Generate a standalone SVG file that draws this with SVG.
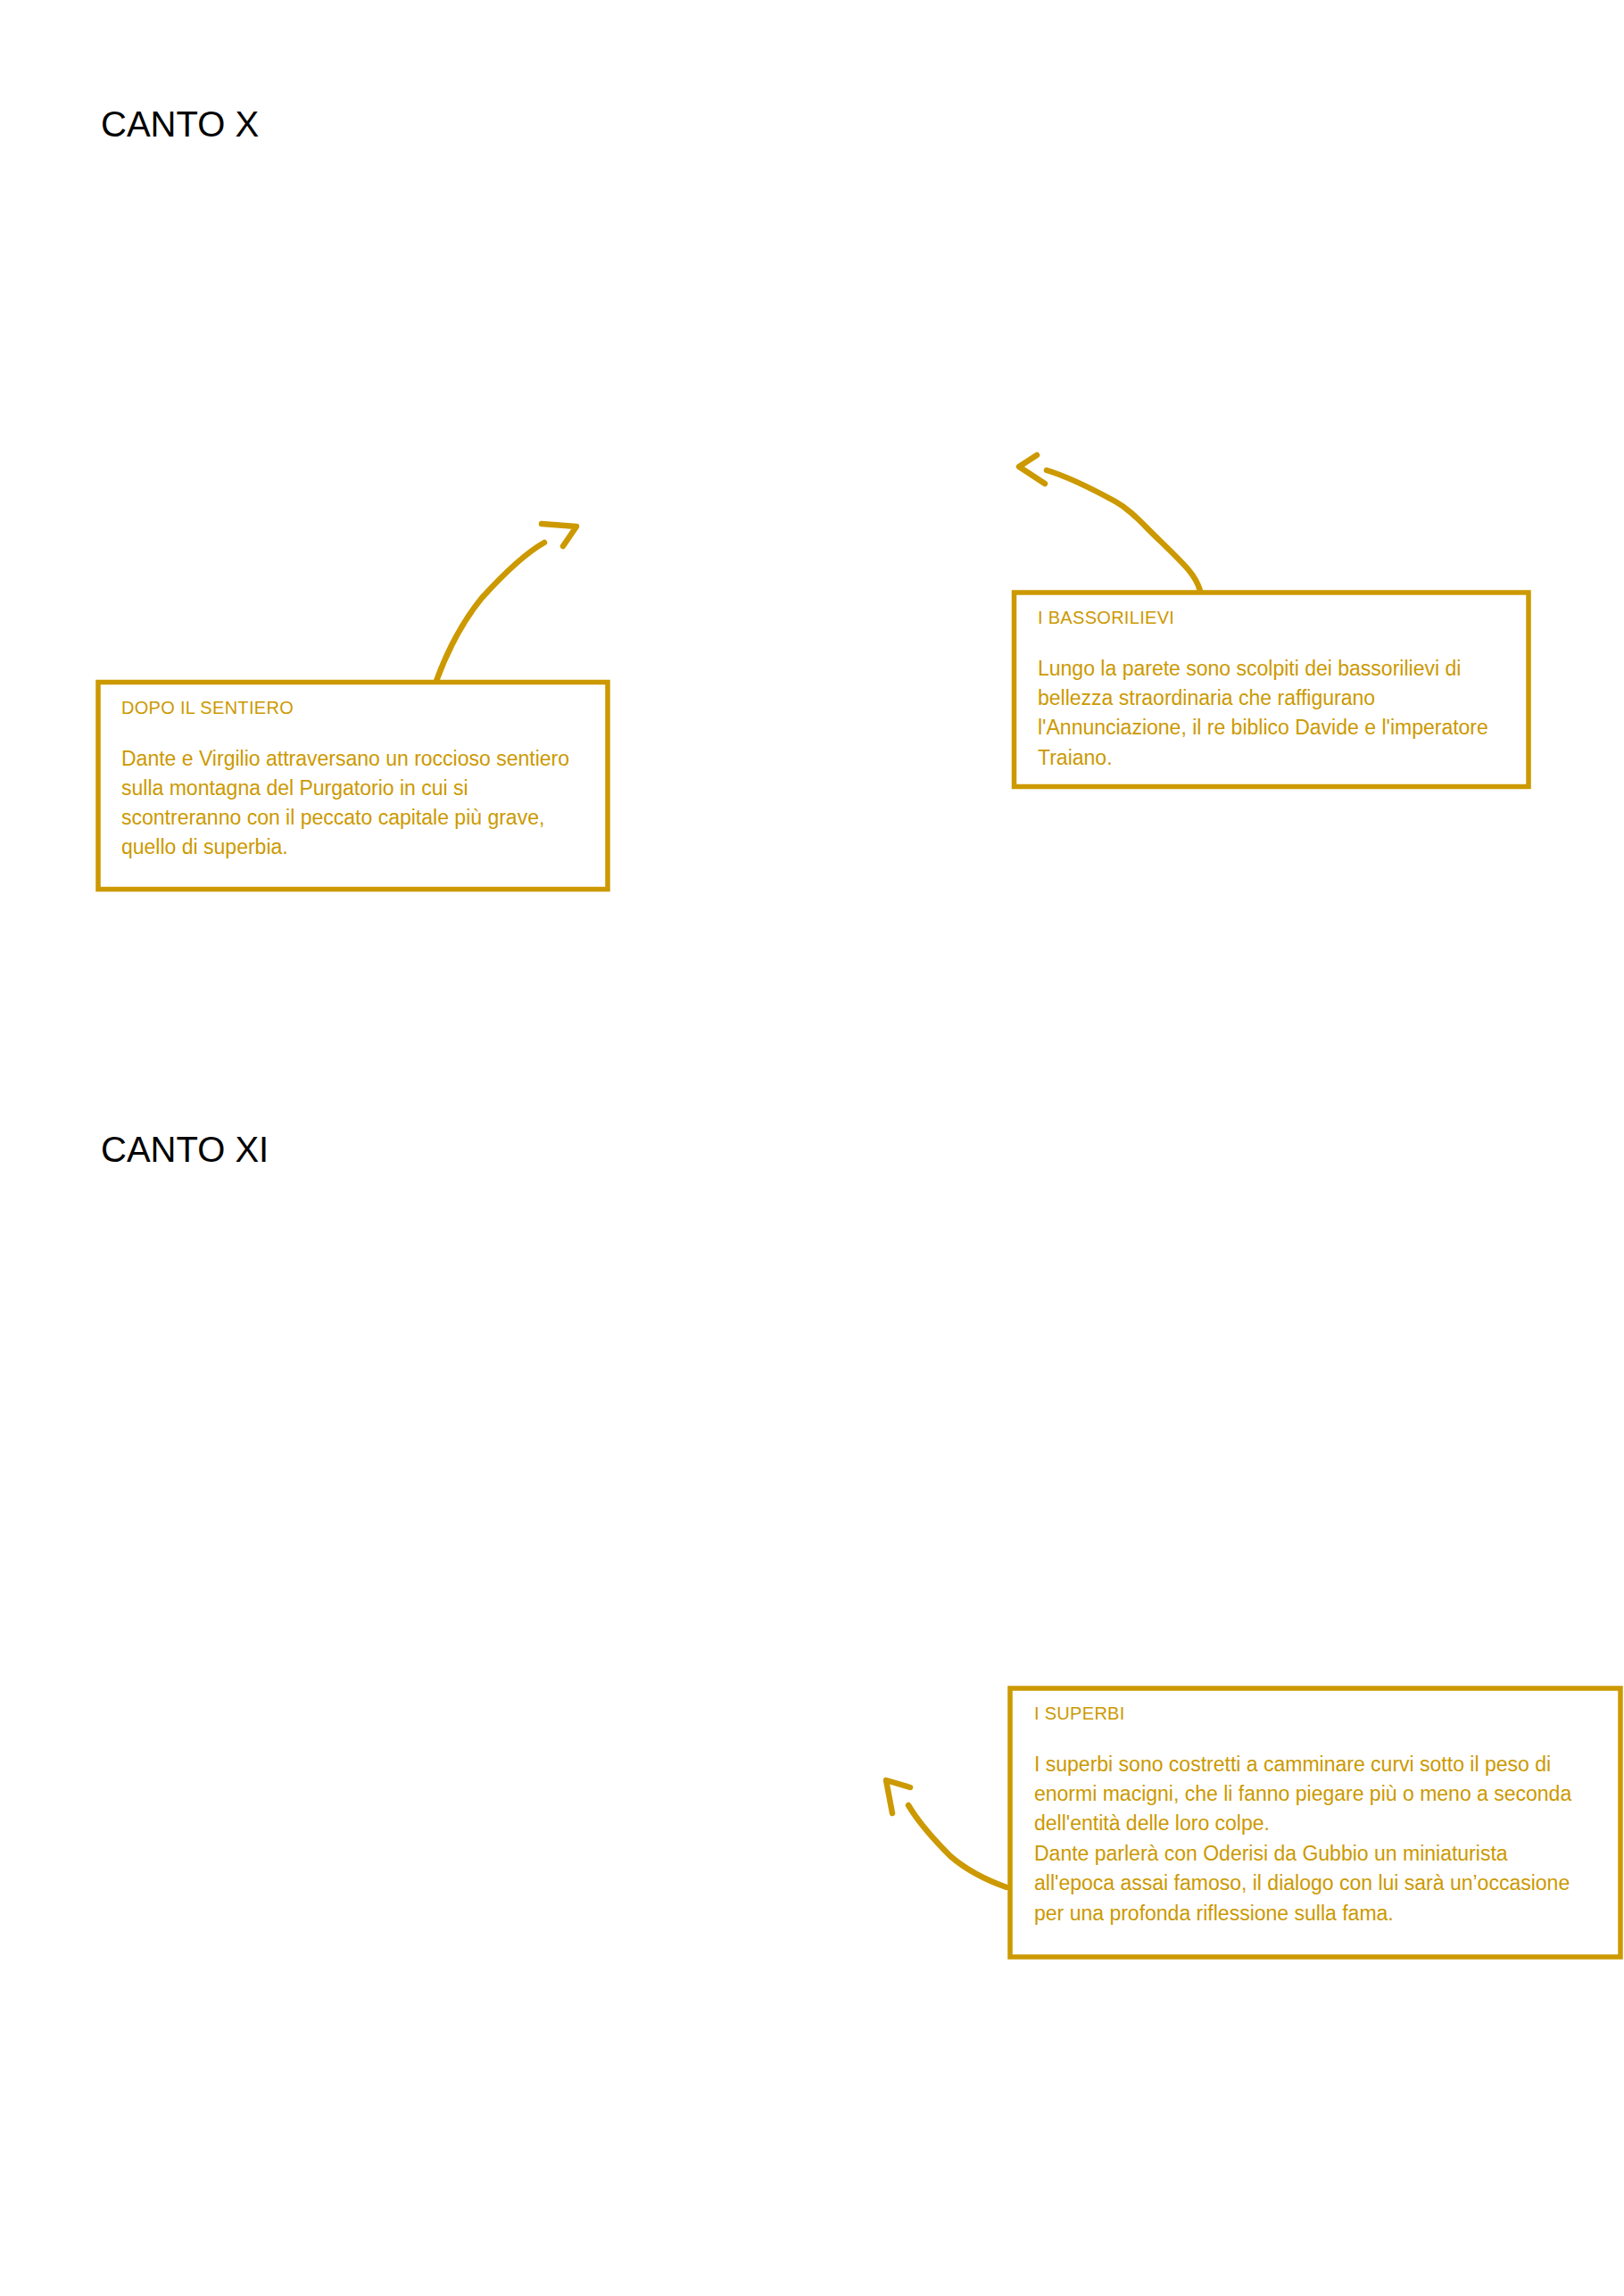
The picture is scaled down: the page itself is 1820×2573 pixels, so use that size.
<svg xmlns="http://www.w3.org/2000/svg" width="1820" height="2573" viewBox="0 0 1820 2573">
<style>
.bg{fill:#ffffff}
.canto{font-family:"Liberation Sans",Arial,sans-serif;font-size:40px;fill:#000000}
.box{fill:#ffffff;stroke:#CC9900;stroke-width:5.5}
.title{font-family:"Liberation Sans",Arial,sans-serif;font-size:20px;fill:#CC9900;letter-spacing:0.3px}
.body{font-family:"Liberation Sans",Arial,sans-serif;font-size:23px;fill:#CC9900}
.conn{fill:none;stroke:#CC9900;stroke-width:6.5;stroke-linecap:round;stroke-linejoin:round}
</style>
<rect class="bg" x="0" y="0" width="1820" height="2573"/>
<g id="canto-x"><text class="canto" x="113" y="153">CANTO X</text></g>
<g id="canto-xi"><text class="canto" x="113" y="1302">CANTO XI</text></g>
<g id="connectors">
<path class="conn" d="M489,763 C503,725 518,697 540,670 C560,648 585,622 610,608"/>
<path class="conn" d="M607,587 L646,590 L631,612"/>
<path class="conn" d="M1345,662 C1340,645 1330,635 1300,606 C1280,587 1268,572 1250,562 C1228,550 1200,535 1173,527"/>
<path class="conn" d="M1162,510 L1142,523 L1171,542"/>
<path class="conn" d="M1128,2115 C1100,2105 1080,2093 1065,2080 C1048,2063 1028,2040 1018,2023"/>
<path class="conn" d="M1000,2032 L993,1995 L1020,2003"/>
</g>
<g id="dopo-il-sentiero">
<rect class="box" x="110" y="764.5" width="571" height="232"/>
<text class="title" x="136" y="800">DOPO IL SENTIERO</text>
<text class="body" x="136" y="858">Dante e Virgilio attraversano un roccioso sentiero</text>
<text class="body" x="136" y="891">sulla montagna del Purgatorio in cui si</text>
<text class="body" x="136" y="924">scontreranno con il peccato capitale più grave,</text>
<text class="body" x="136" y="957">quello di superbia.</text>
</g>
<g id="i-bassorilievi">
<rect class="box" x="1136.5" y="664" width="576.5" height="217.5"/>
<text class="title" x="1163" y="699">I BASSORILIEVI</text>
<text class="body" x="1163" y="757">Lungo la parete sono scolpiti dei bassorilievi di</text>
<text class="body" x="1163" y="790">bellezza straordinaria che raffigurano</text>
<text class="body" x="1163" y="823">l'Annunciazione, il re biblico Davide e l'imperatore</text>
<text class="body" x="1163" y="857">Traiano.</text>
</g>
<g id="i-superbi">
<rect class="box" x="1132" y="1892" width="684" height="301"/>
<text class="title" x="1159" y="1927">I SUPERBI</text>
<text class="body" x="1159" y="1985">I superbi sono costretti a camminare curvi sotto il peso di</text>
<text class="body" x="1159" y="2018">enormi macigni, che li fanno piegare più o meno a seconda</text>
<text class="body" x="1159" y="2051">dell'entità delle loro colpe.</text>
<text class="body" x="1159" y="2085">Dante parlerà con Oderisi da Gubbio un miniaturista</text>
<text class="body" x="1159" y="2118">all'epoca assai famoso, il dialogo con lui sarà un’occasione</text>
<text class="body" x="1159" y="2152">per una profonda riflessione sulla fama.</text>
</g>
</svg>
